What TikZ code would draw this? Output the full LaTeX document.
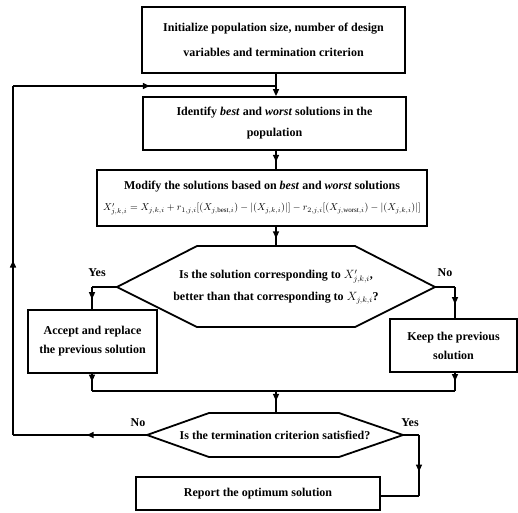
\documentclass[tikz,border=0pt]{standalone}
\usepackage{fontspec}
\setmainfont{Liberation Serif}
\usetikzlibrary{arrows.meta,decorations.markings}
\begin{document}
\begin{tikzpicture}[x=1pt,y=-1pt,
  box/.style={draw, line width=1.8pt, rectangle, align=center, inner sep=0pt},
  txt/.style={font=\bfseries\fontsize{12}{#1}\selectfont, align=center},
  txt/.default=22,
  conn/.style={line width=1.5pt},
  tip/.style={-{Triangle[length=7pt,width=6pt]}},
  midarrow/.style={postaction=decorate, decoration={markings, mark=at position #1 with {\arrow{Triangle[length=7pt,width=6pt]}}}},
  midarrow/.default=0.55,
  lab/.style={font=\bfseries\fontsize{12}{13}\selectfont}
]
\useasboundingbox (0,0) rectangle (518,512);
\fill[white] (0,0) rectangle (518,512);

% boxes
\node[box, minimum width=263pt, minimum height=66pt] (b1) at (273.5,40) {};
\node[txt=25] at (b1) {Initialize population size, number of design\\variables and termination criterion};
\node[box, minimum width=263pt, minimum height=53pt] (b2) at (274.5,123.5) {};
\node[txt=21] at (b2) {Identify \textit{best} and \textit{worst} solutions in the\\population};
\node[box, minimum width=330pt, minimum height=56pt] (b3) at (262,198) {};
\node[txt=21] at (b3) {Modify the solutions based on \textit{best} and \textit{worst} solutions\\
\fontsize{10}{11}\selectfont$X'_{j,k,i}=X_{j,k,i}+r_{1,j,i}[(X_{j,\mathrm{best},i})-|(X_{j,k,i})|]-r_{2,j,i}[(X_{j,\mathrm{worst},i})-|(X_{j,k,i})|]$};

% hexagon 1
\coordinate (h1n) at (276,246);
\coordinate (h1w) at (117,287);
\coordinate (h1e) at (435,287);
\draw[line width=1.8pt, line join=miter] (197,246) -- (355,246) -- (h1e) -- (355,327) -- (197,327) -- (h1w) -- cycle;
\node[txt=22] (h1) at (276,287) {Is the solution corresponding to $X'_{j,k,i}$,\\better than that corresponding to $X_{j,k,i}$?};

\node[box, minimum width=129pt, minimum height=63pt] (acc) at (92.5,341.5) {};
\node[txt=19] at (acc) {Accept and replace\\the previous solution};
\node[box, minimum width=127pt, minimum height=53pt] (keep) at (453.5,345.5) {};
\node[txt=19] at (keep) {Keep the previous\\solution};

% hexagon 2
\coordinate (h2n) at (276,413);
\coordinate (h2w) at (147,435);
\coordinate (h2e) at (403,435);
\draw[line width=1.8pt, line join=miter] (209,413) -- (339,413) -- (h2e) -- (339,457) -- (209,457) -- (h2w) -- cycle;
\node[txt=22] (h2) at (275,435) {Is the termination criterion satisfied?};

\node[box, minimum width=244pt, minimum height=33pt] (rep) at (258,493.5) {};
\node[txt=22] at (rep) {Report the optimum solution};

% labels
\node[lab] at (97,273) {Yes};
\node[lab] at (445,273) {No};
\node[lab] at (138,423) {No};
\node[lab] at (410,423) {Yes};

% helper coordinates
\coordinate (yl) at (92,287);
\coordinate (nr) at (455,287);
\coordinate (jl) at (92,391);
\coordinate (jr) at (455,391);
\coordinate (jm) at (276,391);
\coordinate (ll) at (13,435);
\coordinate (lt) at (13,86);
\coordinate (lj) at (276,86);
\coordinate (rr) at (419,435);
\coordinate (rb) at (419,496);
\coordinate (re) at (rep.east |- rb);

% connectors
\draw[conn, tip] (jm |- b1.south) -- (jm |- b2.north);
\draw[conn, midarrow=0.6] (jm |- b2.south) -- (jm |- b3.north);
\draw[conn, midarrow=0.6] (jm |- b3.south) -- (h1n);
\draw[conn] (h1w) -- (yl);
\draw[conn, midarrow=0.55] (yl) -- (yl |- acc.north);
\draw[conn] (h1e) -- (nr);
\draw[conn, midarrow=0.55] (nr) -- (nr |- keep.north);
\draw[conn, midarrow=0.45] (jl |- acc.south) -- (jl);
\draw[conn, midarrow=0.45] (jr |- keep.south) -- (jr);
\draw[conn] (jl) -- (jr);
\draw[conn, midarrow=0.45] (jm) -- (h2n);
\draw[conn, midarrow=0.45] (h2w) -- (ll);
\draw[conn, midarrow=0.5] (ll) -- (lt);
\draw[conn, midarrow=0.52] (lt) -- (lj);
\draw[conn] (h2e) -- (rr);
\draw[conn, midarrow=0.6] (rr) -- (rb);
\draw[conn] (rb) -- (re);
\end{tikzpicture}
\end{document}
